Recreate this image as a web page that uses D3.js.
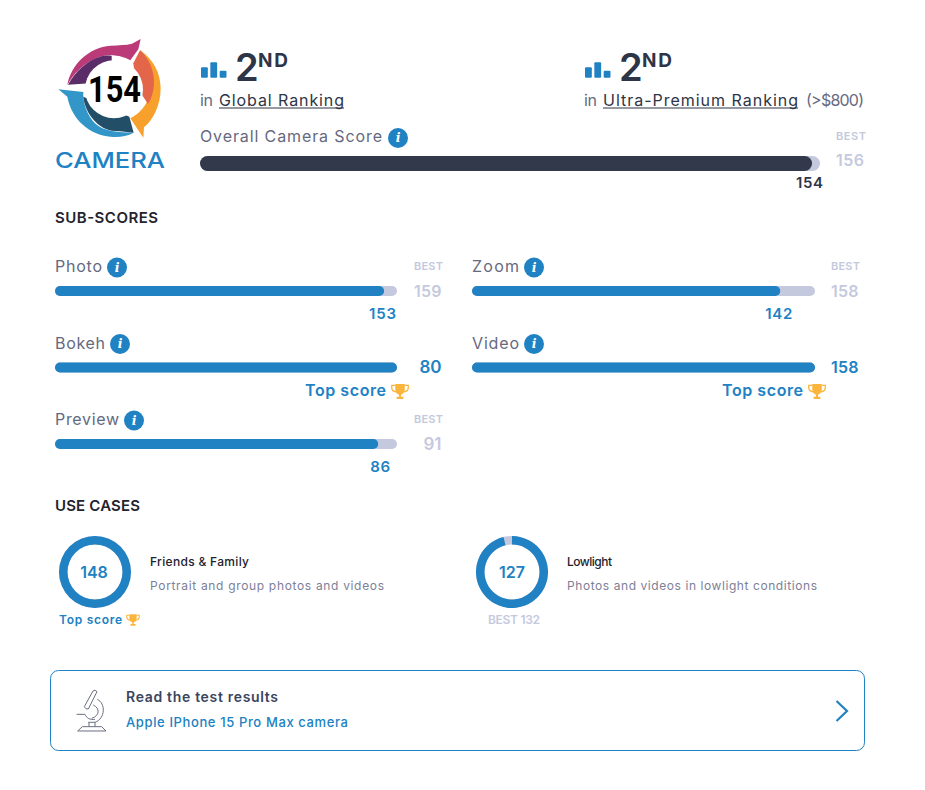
<!DOCTYPE html>
<html><head><meta charset="utf-8">
<script src="https://cdn.jsdelivr.net/npm/d3@7"></script>
<style>html,body{margin:0;background:#fff}svg{display:block}text{font-family:Inter,"Open Sans",sans-serif}</style>
</head><body><svg id="c" width="925" height="790"></svg>
<script>
const overallScore = 154, overallBest = 156, logoScore = "154";
const subNames = ["Photo","Zoom","Bokeh","Video","Preview"];
const subValues = [153,142,80,158,86];
const subBests = [159,158,80,158,91];
const caseNames = ["Friends & Family","Lowlight"];
const caseDescs = ["Portrait and group photos and videos","Photos and videos in lowlight conditions"];
const caseValues = [148,127];
const caseBests = [148,132];

const BLUE="#2081c3",GREY="#c5c9de",DARK="#2e3547",MID="#656980";
const svg=d3.select("#c");
function T(s,x,y,size,weight,fill,width,anchor){
  const t=svg.append("text").attr("x",x).attr("y",y).attr("font-size",size).attr("font-weight",weight).attr("fill",fill).text(s);
  if(anchor)t.attr("text-anchor",anchor);
  if(width)t.attr("textLength",width).attr("lengthAdjust","spacing");
  return t;
}
function info(cx,cy,r){
  svg.append("circle").attr("cx",cx).attr("cy",cy).attr("r",r).attr("fill",BLUE);
  svg.append("text").attr("x",cx).attr("y",cy+r*0.42).attr("text-anchor","middle").attr("font-size",r*1.25).attr("font-weight",800).attr("font-style","italic").attr("fill","#fff").style("font-family","'DejaVu Serif',serif").text("i");
}
function trophy(cx,cy,s){
  const g=svg.append("g").attr("transform",`translate(${cx},${cy}) scale(${s})`);
  g.append("path").attr("d","M-5,-8H5V-2C5,2 2,3 1,3.5V5.5H3.5V8H-3.5V5.5H-1V3.5C-2,3 -5,2 -5,-2Z").attr("fill","#fbb53c");
  g.append("path").attr("d","M-5,-6.5H-8.7V-4C-8.7,-1 -6.5,0 -4.2,0.5M5,-6.5H8.7V-4C8.7,-1 6.5,0 4.2,0.5").attr("fill","none").attr("stroke","#fbb53c").attr("stroke-width",1.4);
}
function rankIcon(x){
  const h=[10.5,15.5,7];
  const sx=d3.scaleBand().domain([0,1,2]).range([x,x+25.5]).paddingInner(0.27);
  const sy=d3.scaleLinear().domain([0,15.5]).range([77.7,62.2]);
  h.forEach((v,i)=>svg.append("rect").attr("x",sx(i)).attr("y",sy(v)).attr("width",sx.bandwidth()).attr("height",77.7-sy(v)).attr("rx",1).attr("fill",BLUE));
}
function bar(x0,x1,y,h,val,best,color){
  const sc=d3.scaleLinear().domain([0,best]).range([x0,x1]);
  svg.append("rect").attr("x",x0).attr("y",y).attr("width",x1-x0).attr("height",h).attr("rx",h/2).attr("fill",GREY);
  svg.append("rect").attr("x",x0).attr("y",y).attr("width",sc(val)-x0).attr("height",h).attr("rx",h/2).attr("fill",color);
  return sc;
}

// logo
const L=svg.append("g").attr("transform","translate(40,30) scale(0.3333)");
L.append("path").attr("fill","#bb3a78").attr("d","M82,165C92,105 145,52 212,47C238,45 258,46 276,41L302,27L295,58L271,91C250,78 215,70 180,80C135,95 100,130 82,165Z");
L.append("path").attr("fill","#5a2c68").attr("d","M84,164C105,125 140,92 180,80C195,76 205,76 215,78L215,120L150,160Z");
L.append("path").attr("fill","#f8a02c").attr("d","M300,60C340,88 362,130 362,175C362,225 340,270 312,292L310,323L271,265C300,250 322,225 330,190L330,120Z");
L.append("path").attr("fill","#e3654a").attr("d","M300,61C328,85 343,125 342,160C341,185 335,205 324,222L290,170L280,100Z");
L.append("path").attr("fill","#3296c8").attr("d","M55,178L130,186C128,215 140,255 165,280C190,305 235,308 281,308C260,320 235,322 212,320C150,315 95,270 82,200Z");
L.append("path").attr("fill","#234e68").attr("d","M130,200L268,260L281,308C262,306 245,304 225,303C175,300 135,250 130,200Z");
L.append("circle").attr("cx",222).attr("cy",178).attr("r",87).attr("fill","#fff");
svg.append("text").attr("x",114.5).attr("y",102).attr("text-anchor","middle").attr("font-size",36).attr("font-weight",700).attr("fill","#000").attr("textLength",53).attr("lengthAdjust","spacingAndGlyphs").style("font-family","Roboto").text(logoScore);
T("CAMERA",55,167.5,22,500,BLUE).attr("textLength",110).attr("lengthAdjust","spacingAndGlyphs");

// rank
[[200,"Global Ranking",219,125],[584,"Ultra-Premium Ranking",603,195]].forEach(([x,name,lx,w],i)=>{
  rankIcon(x+1);
  T("2",x+35,81,38,600,DARK,22);
  T("ND",x+58,67,19,700,DARK,30);
  T("in",x,106,16,400,MID,13);
  T(name,lx,106,16,400,DARK,w);
  svg.append("rect").attr("x",lx).attr("y",107.5).attr("width",w).attr("height",1).attr("fill",DARK);
});
T("(>$800)",806,106,16,400,MID,58);

// overall
T("Overall Camera Score",200,142,16,400,MID,182);
info(398,138,10);
T("BEST",836,140,11,600,GREY,30);
T(String(overallBest),836,166,16,600,GREY,28);
const osc=bar(200,820,156,15,overallScore,overallBest,"#32394a");
T(String(overallScore),osc(overallScore)+11,188,15,600,DARK,27,"end");

// sub scores
T("SUB-SCORES",55,223,15,600,"#23232e",103);
const colX=[55,472], rowY=[286,362.5,439];
const nameW={Photo:47,Zoom:47,Bokeh:50,Video:47,Preview:64};
subNames.forEach((n,i)=>{
  const col=i%2,row=Math.floor(i/2),x=colX[col],y=rowY[row],end=x+342+(col?1:0);
  const v=subValues[i],b=subBests[i],top=v===b;
  T(n,x,y-14,16,400,MID,nameW[n]);
  info(x+nameW[n]+15,y-18.5,10);
  const sc=bar(x,end,y,10,v,b,BLUE);
  T(String(b),x+386.5,y+10.5,b<100?17:16,600,top?BLUE:GREY,b>=100?27.5:null,"end");
  if(top){
    T("Top score",x+250,y+33.5,16,600,BLUE,81);
    trophy(x+345,y+29,0.95);
  }else{
    T("BEST",x+359,y-16,11,600,GREY,29);
    T(String(v),sc(v)+12,y+33,15,600,BLUE,v>=100?27:20,"end");
  }
});

// use cases
T("USE CASES",55,511,15,600,"#23232e",85);
const arc=d3.arc().innerRadius(27.5).outerRadius(36);
const cx=[95,512], cy=572, tx=[150,567], nw=[99,45], dw=[234,250];
caseNames.forEach((n,i)=>{
  const g=svg.append("g").attr("transform",`translate(${cx[i]},${cy})`);
  const a=d3.scaleLinear().domain([0,caseBests[i]]).range([0,2*Math.PI]);
  g.append("path").attr("d",arc({startAngle:0,endAngle:2*Math.PI})).attr("fill",GREY);
  g.append("path").attr("d",arc({startAngle:0,endAngle:a(caseValues[i])})).attr("fill",BLUE);
  T(String(caseValues[i]),cx[i]-(i?0:1),578,16,600,BLUE,null,"middle");
  T(n,tx[i],566,12,500,"#23232e",nw[i]);
  T(caseDescs[i],tx[i],590,12,400,"#7d8098",dw[i]);
  if(caseValues[i]===caseBests[i]){
    T("Top score",59,624,12,600,BLUE,63);
    trophy(133,620,0.72);
  }else{
    T("BEST "+caseBests[i],488,624,12,600,GREY,52);
  }
});

// card
svg.append("rect").attr("x",50.5).attr("y",670.5).attr("width",814).attr("height",80).attr("rx",8).attr("fill","#fff").attr("stroke",BLUE).attr("stroke-width",1);
T("Read the test results",126,702,14,600,"#3a4560",152);
T("Apple IPhone 15 Pro Max camera",126,727,13,500,BLUE,222);
svg.append("path").attr("d","M836.5,701L847,711L836.5,721").attr("fill","none").attr("stroke",BLUE).attr("stroke-width",2.2);
const M=svg.append("g").attr("transform","translate(45,665) scale(0.3333)").attr("fill","none").attr("stroke","#6a6e80").attr("stroke-width",3).attr("stroke-linejoin","round");
M.append("path").attr("d","M118,125L144,78Q150,72 156,80L130,132Q122,134 118,125Z");
M.append("path").attr("d","M157,103C182,115 182,160 150,172H130");
M.append("path").attr("d","M145,120C165,130 165,152 140,160");
M.append("path").attr("d","M95,148H120C125,160 135,165 150,163");
M.append("path").attr("d","M132,172V185M150,172V185M112,185H170L183,198H98Z");
</script></body></html>
